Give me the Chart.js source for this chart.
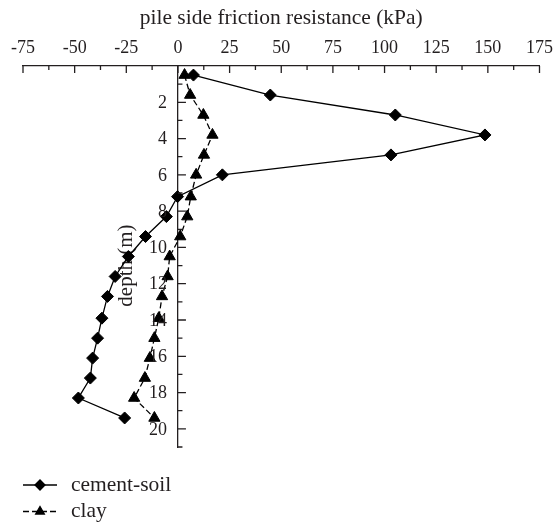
<!DOCTYPE html>
<html>
<head>
<meta charset="utf-8">
<title>pile side friction resistance</title>
<script src="https://cdn.jsdelivr.net/npm/chart.js@4.4.1/dist/chart.umd.min.js"></script>
<style>
  html, body { margin: 0; padding: 0; background: #fff; }
</style>
</head>
<body>
<canvas id="frictionChart" width="560" height="524"></canvas>
<script>
// depth of each measuring point (m)
const depths = [0.5, 1.6, 2.7, 3.8, 4.9, 6.0, 7.2, 8.3, 9.4, 10.5, 11.6, 12.7, 13.9, 15.0, 16.1, 17.2, 18.3, 19.4];
// side friction (kPa) at each depth
const cementSoil = [7.5, 44.7, 105.2, 148.6, 103.1, 21.5, -0.2, -5.6, -15.7, -24.0, -30.4, -34.1, -36.8, -38.9, -41.3, -42.4, -48.2, -25.8];
const clay = [3.2, 5.9, 12.3, 16.7, 12.6, 8.8, 6.2, 4.5, 1.1, -4.0, -5.0, -7.7, -9.3, -11.4, -13.6, -16.0, -21.2, -11.4];

const frictionTicks = [-75, -50, -25, 0, 25, 50, 75, 100, 125, 150, 175];
const depthTicks = [2, 4, 6, 8, 10, 12, 14, 16, 18, 20];

const INK = "#231f20";
const SERIF = "'Liberation Serif', 'DejaVu Serif', serif";

const series = [
  { label: "cement-soil", values: cementSoil, pointStyle: "rectRot", radius: 6, dash: [] },
  { label: "clay", values: clay, pointStyle: "triangle", radius: 6.5, dash: [6, 3] },
];

// inward tick marks on both axes, plus the depth labels left of the x = 0 axis
const innerTicks = {
  id: "innerTicks",
  afterDraw(chart) {
    const { ctx, chartArea, scales: { x, y } } = chart;
    const x0 = x.getPixelForValue(0);
    ctx.save();
    ctx.strokeStyle = INK;
    ctx.lineWidth = 1.3;
    ctx.beginPath();
    frictionTicks.forEach((v, i) => {
      const px = x.getPixelForValue(v);
      ctx.moveTo(px, chartArea.top);
      ctx.lineTo(px, chartArea.top + 7);
      if (i < frictionTicks.length - 1) {
        const mx = x.getPixelForValue(v + 12.5);
        ctx.moveTo(mx, chartArea.top);
        ctx.lineTo(mx, chartArea.top + 4);
      }
    });
    for (let d = 1; d <= 21; d++) {
      const py = y.getPixelForValue(d);
      const len = d % 2 === 0 ? 8 : 4.5;
      ctx.moveTo(x0, py);
      ctx.lineTo(x0 + len, py);
    }
    ctx.stroke();

    ctx.fillStyle = INK;
    ctx.font = "18px " + SERIF;
    ctx.textAlign = "right";
    ctx.textBaseline = "middle";
    depthTicks.forEach((d) => {
      ctx.fillText(String(d), x0 - 11, y.getPixelForValue(d) + 1);
    });
    ctx.restore();
  },
};

// rotated depth title, drawn under the markers
const depthTitle = {
  id: "depthTitle",
  beforeDatasetsDraw(chart) {
    const { ctx, scales: { x, y } } = chart;
    ctx.save();
    ctx.translate(x.getPixelForValue(-25), y.getPixelForValue(11));
    ctx.rotate(-Math.PI / 2);
    ctx.fillStyle = INK;
    ctx.font = "21px " + SERIF;
    ctx.textAlign = "center";
    ctx.textBaseline = "middle";
    ctx.fillText("depth (m)", 0, 0);
    ctx.restore();
  },
};

// stacked legend under the plot
const stackedLegend = {
  id: "stackedLegend",
  afterDraw(chart) {
    const { ctx, chartArea } = chart;
    const left = chartArea.left;
    chart.data.datasets.forEach((ds, i) => {
      const cy = chartArea.bottom + 38 + i * 26.5;
      ctx.save();
      ctx.strokeStyle = "#000";
      ctx.lineWidth = 1.3;
      ctx.setLineDash(ds.borderDash || []);
      ctx.beginPath();
      ctx.moveTo(left, cy);
      ctx.lineTo(left + 34, cy);
      ctx.stroke();
      ctx.setLineDash([]);
      ctx.fillStyle = "#000";
      Chart.helpers.drawPoint(ctx, {
        pointStyle: ds.pointStyle,
        radius: 5,
        rotation: 0,
        borderWidth: 1,
      }, left + 17, cy);
      ctx.fillStyle = INK;
      ctx.font = "21.5px " + SERIF;
      ctx.textAlign = "left";
      ctx.textBaseline = "middle";
      ctx.fillText(ds.label, left + 48, cy);
      ctx.restore();
    });
  },
};

new Chart(document.getElementById("frictionChart"), {
  type: "scatter",
  data: {
    datasets: series.map((s) => ({
      label: s.label,
      data: depths.map((d, i) => ({ x: s.values[i], y: d })),
      showLine: true,
      borderColor: "#000",
      borderWidth: 1.3,
      borderDash: s.dash,
      backgroundColor: "#000",
      pointStyle: s.pointStyle,
      pointRadius: s.radius,
      pointBorderWidth: 1,
      pointBackgroundColor: "#000",
      pointBorderColor: "#000",
    })),
  },
  options: {
    responsive: false,
    animation: false,
    devicePixelRatio: 1,
    layout: { padding: { left: 23, right: 16, top: 0, bottom: 77 } },
    plugins: {
      legend: { display: false },
      tooltip: { enabled: false },
    },
    scales: {
      x: {
        type: "linear",
        position: "top",
        min: -75,
        max: 175,
        afterBuildTicks: (scale) => {
          scale.ticks = frictionTicks.map((v) => ({ value: v }));
        },
        afterFit: (scale) => {
          scale.height = 66;
        },
        grid: { display: false, drawTicks: false },
        border: { display: true, color: INK, width: 1.3 },
        ticks: {
          color: INK,
          padding: 7,
          maxRotation: 0,
          font: { family: SERIF, size: 18 },
        },
        title: {
          display: true,
          text: "pile side friction resistance (kPa)",
          color: INK,
          font: { family: SERIF, size: 21.5 },
          padding: { top: 5, bottom: 0 },
        },
      },
      y: {
        type: "linear",
        position: { x: 0 },
        reverse: true,
        min: 0,
        max: 21,
        afterBuildTicks: (scale) => {
          scale.ticks = depthTicks.map((v) => ({ value: v }));
        },
        afterFit: (scale) => {
          scale.width = 0;
        },
        grid: { display: false, drawTicks: false },
        border: { display: true, color: INK, width: 1.3 },
        ticks: { display: false },
      },
    },
  },
  plugins: [depthTitle, innerTicks, stackedLegend],
});
</script>
</body>
</html>
